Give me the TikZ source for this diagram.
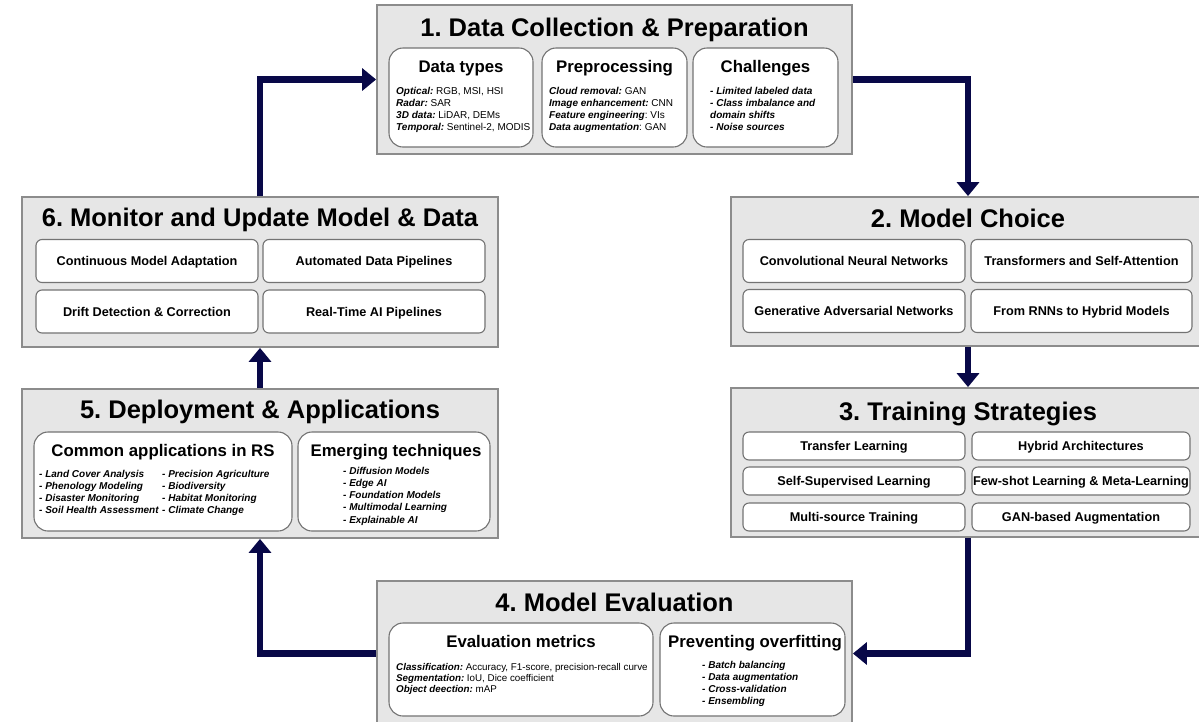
\documentclass[tikz,border=0pt]{standalone}
\usepackage{fontspec}
\setmainfont{Liberation Sans}
\usetikzlibrary{arrows.meta}
\definecolor{navy}{RGB}{8,8,72}
\definecolor{panel}{RGB}{230,230,230}
\definecolor{rim}{RGB}{140,140,140}
\definecolor{cardrim}{RGB}{115,115,115}
\newcommand{\kw}[1]{\textbf{\textit{#1}}}
\frenchspacing

\begin{document}
\begin{tikzpicture}[x=1pt,y=-1pt,
  panelbox/.style={draw=rim,line width=1.8pt,fill=panel,inner sep=0pt},
  bigcard/.style={draw=cardrim,line width=1.1pt,fill=white,rounded corners=14pt,inner sep=0pt},
  itemcard/.style={draw=cardrim,line width=1.1pt,fill=white,rounded corners=6pt,inner sep=0pt,
    font=\fontsize{12.7}{15}\selectfont\bfseries,text height=9.1pt,text depth=0pt},
  title/.style={font=\fontsize{25.5}{30}\selectfont\bfseries,inner sep=0pt,anchor=base},
  subhead/.style={font=\fontsize{16.8}{20}\selectfont\bfseries,inner sep=0pt,anchor=base},
  % multi-line blocks are placed by the baseline of their last line
  body/.style={font=\fontsize{10}{12.3}\selectfont,inner sep=0pt,anchor=base west,align=left},
  bodybi/.style={body,font=\fontsize{10}{12.2}\selectfont\bfseries\itshape},
  flow/.style={draw=navy,line width=6.5pt,line join=miter,-{Triangle[width=22pt,length=14pt]}}
]
\useasboundingbox (0,0) rectangle (1199,721);
\fill[white] (0,0) rectangle (1199,721);
\begin{scope}
\clip (0,0) rectangle (1199,721);

% ---------- stage panels ----------
\node[panelbox,minimum width=475pt,minimum height=149pt] (b1) at (614.5,79.5) {};
\node[panelbox,minimum width=474pt,minimum height=149pt] (b2) at (968,271.5) {};
\node[panelbox,minimum width=474pt,minimum height=149pt] (b3) at (968,462.5) {};
\node[panelbox,minimum width=475pt,minimum height=145pt] (b4) at (614.5,653.5) {};
\node[panelbox,minimum width=476pt,minimum height=149pt] (b5) at (260,463.5) {};
\node[panelbox,minimum width=476pt,minimum height=150pt] (b6) at (260,272) {};

% ---------- cycle arrows ----------
\draw[flow] (b1.east) -| (b2.north);
\draw[flow] (b2.south) -- (b3.north);
\draw[flow] (b3.south) |- (b4.east);
\draw[flow] (b4.west) -| (b5.south);
\draw[flow] (b5.north) -- (b6.south);
\draw[flow] (b6.north) |- (b1.west);

% ---------- 1. Data collection ----------
\node[title] (t1) at (614.5,36.7) {1. Data Collection \& Preparation};
\node[bigcard,minimum width=144pt,minimum height=99pt] (c11) at (461,97.5) {};
\node[bigcard,minimum width=145pt,minimum height=99pt] (c12) at (614.5,97.5) {};
\node[bigcard,minimum width=145pt,minimum height=99pt] (c13) at (765.5,97.5) {};
\node[subhead] (h11) at (461,72.7) {Data types};
\node[subhead] (h12) at (614.5,72.7) {Preprocessing};
\node[subhead] (h13) at (765.5,72.7) {Challenges};
\node[body] (d11) at (396,130.9) {\kw{Optical:} RGB, MSI, HSI\\\kw{Radar:} SAR\\\kw{3D data:} LiDAR, DEMs\\\kw{Temporal:} Sentinel-2, MODIS};
\node[body] (d12) at (549,130.9) {\kw{Cloud removal:} GAN\\\kw{Image enhancement:} CNN\\\kw{Feature engineering}: VIs\\\kw{Data augmentation}: GAN};
\node[bodybi] (d13) at (710,130.6) {- Limited labeled data\\- Class imbalance and\\domain shifts\\- Noise sources};

% ---------- 2. Model choice ----------
\node[title] (t2) at (968,227.3) {2. Model Choice};
\node[itemcard,minimum width=222pt,minimum height=43pt] (c21) at (854,261) {Convolutional Neural Networks};
\node[itemcard,minimum width=221pt,minimum height=43pt] (c22) at (1081.5,261) {Transformers and Self-Attention};
\node[itemcard,minimum width=222pt,minimum height=43pt] (c23) at (854,311) {Generative Adversarial Networks};
\node[itemcard,minimum width=221pt,minimum height=43pt] (c24) at (1081.5,311) {From RNNs to Hybrid Models};

% ---------- 3. Training strategies ----------
\node[title] (t3) at (968,420) {3. Training Strategies};
\node[itemcard,minimum width=222pt,minimum height=28pt] (c31) at (854,446) {Transfer Learning};
\node[itemcard,minimum width=218pt,minimum height=28pt] (c32) at (1081,446) {Hybrid Architectures};
\node[itemcard,minimum width=222pt,minimum height=28pt] (c33) at (854,481) {Self-Supervised Learning};
\node[itemcard,minimum width=218pt,minimum height=28pt] (c34) at (1081,481) {Few-shot Learning \& Meta-Learning};
\node[itemcard,minimum width=222pt,minimum height=28pt] (c35) at (854,517) {Multi-source Training};
\node[itemcard,minimum width=218pt,minimum height=28pt] (c36) at (1081,517) {GAN-based Augmentation};

% ---------- 4. Model evaluation ----------
\node[title] (t4) at (614.5,611.7) {4. Model Evaluation};
\node[bigcard,minimum width=264pt,minimum height=93pt] (c41) at (521,669.5) {};
\node[bigcard,minimum width=185pt,minimum height=93pt] (c42) at (752.5,669.5) {};
\node[subhead] (h41) at (521,647.7) {Evaluation metrics};
\node[subhead] (h42) at (755,647.7) {Preventing overfitting};
\node[body,font=\fontsize{9.8}{10.7}\selectfont] (d41) at (396,692.1) {\kw{Classification:} Accuracy, F1-score, precision-recall curve\\\kw{Segmentation:} IoU, Dice coefficient\\\kw{Object deection:} mAP};
\node[bodybi,font=\fontsize{10}{12.1}\selectfont\bfseries\itshape] (d42) at (702,704.6) {- Batch balancing\\- Data augmentation\\- Cross-validation\\- Ensembling};

% ---------- 5. Deployment ----------
\node[title] (t5) at (260,418.3) {5. Deployment \& Applications};
\node[bigcard,minimum width=258pt,minimum height=99pt] (c51) at (163,481.5) {};
\node[bigcard,minimum width=192pt,minimum height=99pt] (c52) at (394,481.5) {};
\node[subhead] (h51) at (163,456.7) {Common applications in RS};
\node[subhead] (h52) at (396,456.7) {Emerging techniques};
\node[bodybi,font=\fontsize{10}{12.1}\selectfont\bfseries\itshape] (d51) at (39,513.6) {- Land Cover Analysis\\- Phenology Modeling\\- Disaster Monitoring\\- Soil Health Assessment};
\node[bodybi,font=\fontsize{10}{12.1}\selectfont\bfseries\itshape] (d52) at (162,513.6) {- Precision Agriculture\\- Biodiversity\\- Habitat Monitoring\\- Climate Change};
\node[bodybi] (d53) at (343,523.1) {- Diffusion Models\\- Edge AI\\- Foundation Models\\- Multimodal Learning\\- Explainable AI};

% ---------- 6. Monitoring ----------
\node[title] (t6) at (260,226.7) {6. Monitor and Update Model \& Data};
\node[itemcard,minimum width=222pt,minimum height=43pt] (c61) at (147,261) {Continuous Model Adaptation};
\node[itemcard,minimum width=222pt,minimum height=43pt] (c62) at (374,261) {Automated Data Pipelines};
\node[itemcard,minimum width=222pt,minimum height=43pt] (c63) at (147,311.5) {Drift Detection \& Correction};
\node[itemcard,minimum width=222pt,minimum height=43pt] (c64) at (374,311.5) {Real-Time AI Pipelines};
\end{scope}
\end{tikzpicture}
\end{document}
